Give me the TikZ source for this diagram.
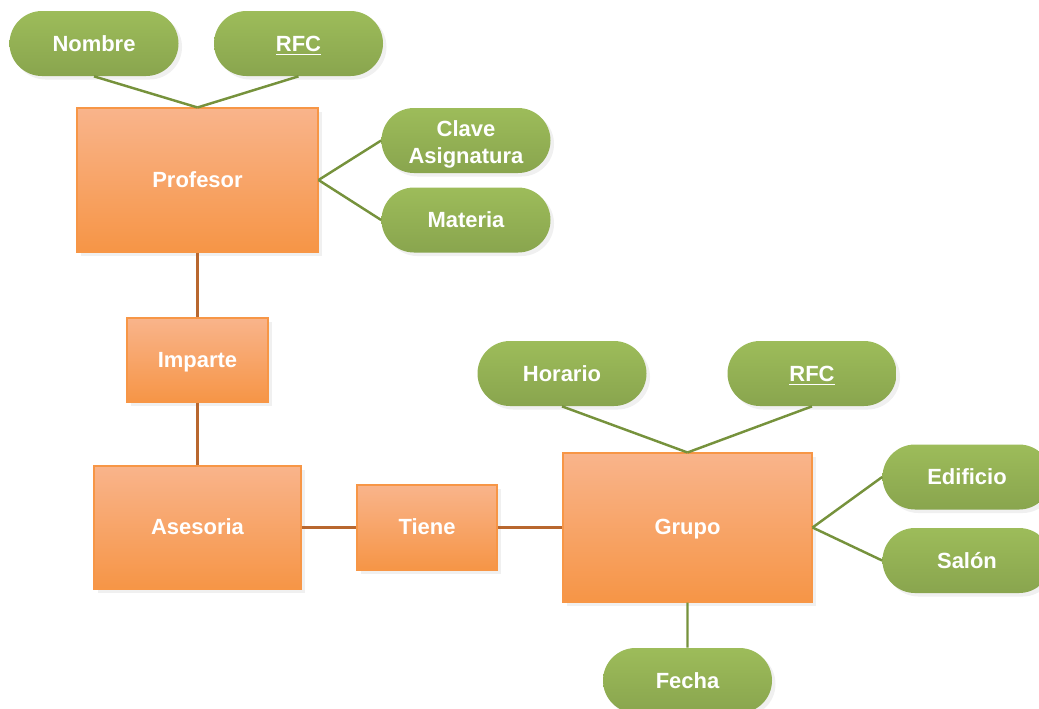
\documentclass[tikz,border=0pt]{standalone}
\usepackage{fontspec}
\setmainfont{Liberation Sans}
\usepackage{xcolor}
\usetikzlibrary{shapes.misc, shadows}

\definecolor{orangetop}{HTML}{F9B48B}
\definecolor{orangebot}{HTML}{F69546}
\definecolor{orangeedge}{HTML}{F79646}
\definecolor{orangeline}{HTML}{B8672F}
\definecolor{greentop}{HTML}{9DBC5A}
\definecolor{greenbot}{HTML}{89A54E}
\definecolor{greenline}{HTML}{76923C}

\begin{document}
\begin{tikzpicture}[
    entity/.style={rectangle, draw=orangeedge, line width=0.6pt, top color=orangetop, bottom color=orangebot, text=white, font=\fontsize{12.5}{15}\selectfont\bfseries, text height=1.02em, text depth=0.2em, inner sep=0pt, drop shadow={opacity=0.12, shadow xshift=2pt, shadow yshift=-2pt}},
    attrib/.style={rounded rectangle, top color=greentop, bottom color=greenbot, text=white, font=\fontsize{12.5}{15.3}\selectfont\bfseries, align=center, minimum width=3.38cm, minimum height=1.3cm, inner sep=0pt, drop shadow={opacity=0.12, shadow xshift=2pt, shadow yshift=-2pt}},
    rel/.style={orangeline, line width=1.3pt},
    att/.style={greenline, line width=1.4pt}]

    \useasboundingbox (0,0) rectangle (20.78,-14.16);

    \node [entity, minimum width=4.82cm, minimum height=2.88cm] (profesor) at (3.95,-3.6) {Profesor};
    \node [entity, minimum width=2.82cm, minimum height=1.68cm] (imparte) at (3.95,-7.2) {Imparte};
    \node [entity, minimum width=4.14cm, minimum height=2.46cm] (asesoria) at (3.95,-10.55) {Asesoria};
    \node [entity, minimum width=2.8cm, minimum height=1.7cm] (tiene) at (8.54,-10.55) {Tiene};
    \node [entity, minimum width=4.98cm, minimum height=2.98cm] (grupo) at (13.75,-10.55) {Grupo};

    \node [attrib] (nombre) at (1.88,-0.87) {Nombre};
    \node [attrib] (rfcprof) at (5.97,-0.87) {\rule{0pt}{11.5pt}\underline{RFC}};
    \node [attrib] (clave) at (9.32,-2.81) {\rule{0pt}{13pt}Clave\\Asignatura};
    \node [attrib] (materia) at (9.32,-4.4) {Materia};
    \node [attrib] (horario) at (11.24,-7.47) {Horario};
    \node [attrib] (rfcgrupo) at (16.24,-7.47) {\rule{0pt}{11.5pt}\underline{RFC}};
    \node [attrib] (edificio) at (19.34,-9.54) {Edificio};
    \node [attrib] (salon) at (19.34,-11.21) {Salón};
    \node [attrib] (fecha) at (13.75,-13.61) {Fecha};

    \draw [rel] (profesor) -- (imparte);
    \draw [rel] (imparte) -- (asesoria);
    \draw [rel] (asesoria) -- (tiene);
    \draw [rel] (tiene) -- (grupo);

    \draw [att] (nombre.south) -- (profesor.north);
    \draw [att] (rfcprof.south) -- (profesor.north);
    \draw [att] (clave.west) -- (profesor.east);
    \draw [att] (materia.west) -- (profesor.east);
    \draw [att] (horario.south) -- (grupo.north);
    \draw [att] (rfcgrupo.south) -- (grupo.north);
    \draw [att] (edificio.west) -- (grupo.east);
    \draw [att] (salon.west) -- (grupo.east);
    \draw [att] (grupo) -- (fecha);
\end{tikzpicture}
\end{document}
